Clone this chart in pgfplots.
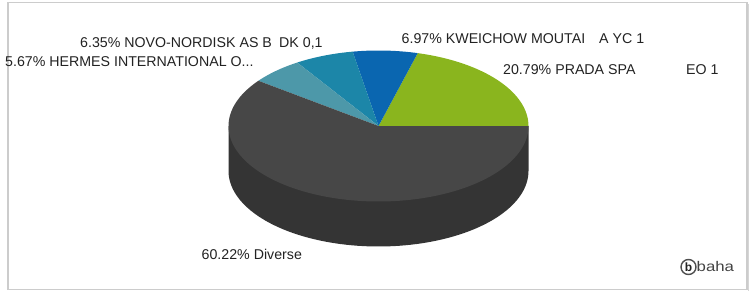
\documentclass[border=0pt]{standalone}
\usepackage{pgfplots}
\pgfplotsset{compat=1.18}
\usepackage{fontspec}
\setmainfont{Liberation Sans}
\definecolor{cGreen}{HTML}{8AB51E}
\definecolor{cBlue}{HTML}{0A66B0}
\definecolor{cTeal}{HTML}{1C86A8}
\definecolor{cLTeal}{HTML}{4D98A9}
\definecolor{cDark}{HTML}{474747}
\definecolor{cSide}{HTML}{343434}
\definecolor{cFrame}{HTML}{CCCCCC}
\definecolor{cText}{HTML}{222222}
% shares in percent
\def\sA{20.79}% PRADA SPA
\def\sB{6.97}%  KWEICHOW MOUTAI
\def\sC{6.35}%  NOVO-NORDISK
\def\sD{5.67}%  HERMES INTERNATIONAL
\def\sE{60.22}% Diverse
\pgfmathsetmacro\aA{3.6*\sA}
\pgfmathsetmacro\aB{\aA+3.6*\sB}
\pgfmathsetmacro\aC{\aB+3.6*\sC}
\pgfmathsetmacro\aD{\aC+3.6*\sD}
\pgfmathsetmacro\aE{\aD+3.6*\sE}
\def\cx{378.5}
\def\cy{126}
\def\rx{150}
\def\ry{75.5}
\def\dz{45}
\newcommand\lbl{\fontsize{14.2bp}{17bp}\selectfont\color{cText}}
\begin{document}
\begin{tikzpicture}
\begin{axis}[
  scale only axis, width=754bp, height=291bp,
  xmin=0, xmax=754, ymin=0, ymax=291, y dir=reverse,
  hide axis, clip=false, at={(0,0)}, anchor=south west,
]
\path (axis cs:0,0) rectangle (axis cs:754,291);
% frame
\draw[cFrame, line width=1.5bp] (axis cs:8,2.5) rectangle (axis cs:747,289.5);
\draw[cFrame!80, line width=1.5bp] (axis cs:748.5,4) -- (axis cs:748.5,291);
% side of the pie
\addplot[fill=cSide, draw=none, domain=180:360, samples=80, variable=\t]
  ({\cx+\rx*cos(\t)}, {\cy+\dz-\ry*sin(\t)}) -- (axis cs:\cx+\rx,\cy) -- (axis cs:\cx-\rx,\cy) -- cycle;
% top slices
\addplot[fill=cGreen, draw=none, domain=0:\aA, samples=40, variable=\t]
  ({\cx+\rx*cos(\t)}, {\cy-\ry*sin(\t)}) -- (axis cs:\cx,\cy) -- cycle;
\addplot[fill=cBlue, draw=none, domain=\aA:\aB, samples=20, variable=\t]
  ({\cx+\rx*cos(\t)}, {\cy-\ry*sin(\t)}) -- (axis cs:\cx,\cy) -- cycle;
\addplot[fill=cTeal, draw=none, domain=\aB:\aC, samples=20, variable=\t]
  ({\cx+\rx*cos(\t)}, {\cy-\ry*sin(\t)}) -- (axis cs:\cx,\cy) -- cycle;
\addplot[fill=cLTeal, draw=none, domain=\aC:\aD, samples=20, variable=\t]
  ({\cx+\rx*cos(\t)}, {\cy-\ry*sin(\t)}) -- (axis cs:\cx,\cy) -- cycle;
\addplot[fill=cDark, draw=none, domain=\aD:\aE, samples=120, variable=\t]
  ({\cx+\rx*cos(\t)}, {\cy-\ry*sin(\t)}) -- (axis cs:\cx,\cy) -- cycle;
% labels
\node[anchor=base west, inner sep=0] at (axis cs:80,47) {\lbl 6.35\% NOVO-NORDISK AS B};
\node[anchor=base west, inner sep=0] at (axis cs:279,47) {\lbl DK 0,1};
\node[anchor=base west, inner sep=0] at (axis cs:5,66.5) {\lbl 5.67\% HERMES INTERNATIONAL O...};
\node[anchor=base west, inner sep=0] at (axis cs:401.5,43) {\lbl 6.97\% KWEICHOW MOUTAI};
\node[anchor=base west, inner sep=0] at (axis cs:599,43) {\lbl A YC 1};
\node[anchor=base west, inner sep=0] at (axis cs:503,74) {\lbl 20.79\% PRADA SPA};
\node[anchor=base west, inner sep=0] at (axis cs:686,74) {\lbl EO 1};
\node[anchor=base west, inner sep=0] at (axis cs:201.5,259) {\lbl 60.22\% Diverse};
% logo
\node[draw=cText!80, line width=1.4bp, circle, minimum size=15bp, inner sep=0, font=\fontsize{12bp}{13bp}\selectfont\bfseries, text=cText] at (axis cs:688.5,267) {b};
\node[anchor=base west, inner sep=0, font=\fontsize{14bp}{15bp}\selectfont, text=cText!85] at (axis cs:696.5,271.5) {\scalebox{1.2}[1]{baha}};
\end{axis}
\end{tikzpicture}
\end{document}
